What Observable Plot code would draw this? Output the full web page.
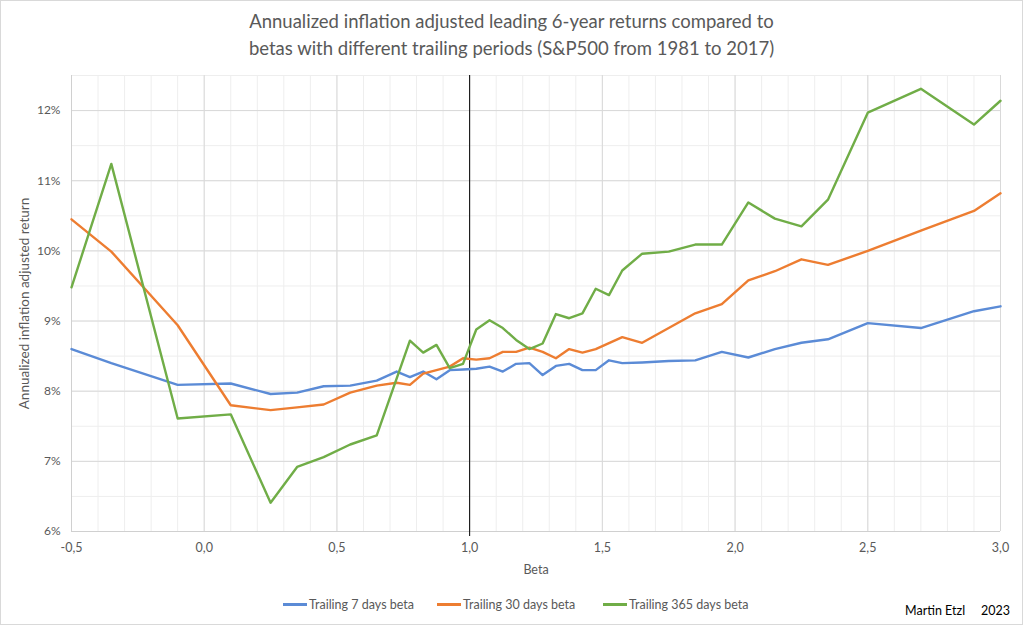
<!DOCTYPE html>
<html>
<head>
<meta charset="utf-8">
<script src="https://cdn.jsdelivr.net/npm/d3@7"></script>
<script src="https://cdn.jsdelivr.net/npm/@observablehq/plot@0.6"></script>
<style>
  html, body { margin: 0; padding: 0; background: #fff; }
  body { width: 1023px; height: 625px; position: relative; overflow: hidden; font-family: Lato, "Open Sans", sans-serif; }
  #frame { position: absolute; left: 0; top: 0; width: 1021px; height: 623px; border: 1px solid #d9d9d9; }
  #title { position: absolute; left: 0; width: 1023px; top: 8px; text-align: center; color: #595959; font-size: 18.5px; line-height: 27px; }
  #chart { position: absolute; left: 0; top: 60px; }
  .leg { position: absolute; top: 597px; font-size: 12.5px; color: #595959; display: flex; align-items: center; white-space: nowrap; }
  .leg i { display: inline-block; width: 24px; height: 3px; margin-right: 2px; }
  #credit { position: absolute; top: 603px; left: 905px; font-size: 12.5px; color: #000; white-space: pre; }
</style>
</head>
<body>
<div id="frame"></div>
<div id="title">Annualized inflation adjusted leading 6-year returns compared to<br>betas with different trailing periods (S&amp;P500 from 1981 to 2017)</div>
<div id="chart"></div>
<div id="legend"></div>
<div id="credit">Martin Etzl     2023</div>
<script>
// ---- data (beta on x, annualized return in % on y) ----
const seriesNames = ["Trailing 7 days beta", "Trailing 30 days beta", "Trailing 365 days beta"];
const seriesColors = ["#5b8bd6", "#ed7d31", "#70ad47"];

const beta7 = [-0.5, -0.35, -0.1, 0.1, 0.25, 0.35, 0.45, 0.55, 0.65, 0.725, 0.775, 0.825, 0.875, 0.925, 0.975, 1.025, 1.075, 1.125, 1.175, 1.225, 1.275, 1.325, 1.375, 1.425, 1.475, 1.525, 1.575, 1.65, 1.75, 1.85, 1.95, 2.05, 2.15, 2.25, 2.35, 2.5, 2.7, 2.9, 3.0];
const ret7 = [8.60, 8.40, 8.09, 8.11, 7.96, 7.98, 8.07, 8.08, 8.15, 8.28, 8.20, 8.28, 8.17, 8.30, 8.31, 8.32, 8.35, 8.28, 8.39, 8.40, 8.23, 8.36, 8.39, 8.30, 8.30, 8.44, 8.40, 8.41, 8.43, 8.44, 8.56, 8.48, 8.60, 8.69, 8.74, 8.97, 8.90, 9.14, 9.21];

const beta30 = [-0.5, -0.35, -0.1, 0.1, 0.25, 0.35, 0.45, 0.55, 0.65, 0.725, 0.775, 0.825, 0.875, 0.925, 0.975, 1.025, 1.075, 1.125, 1.175, 1.225, 1.275, 1.325, 1.375, 1.425, 1.475, 1.575, 1.65, 1.85, 1.95, 2.05, 2.15, 2.25, 2.35, 2.5, 2.7, 2.9, 3.0];
const ret30 = [10.45, 9.99, 8.94, 7.80, 7.73, 7.77, 7.81, 7.98, 8.08, 8.12, 8.09, 8.25, 8.30, 8.35, 8.47, 8.45, 8.47, 8.56, 8.56, 8.62, 8.56, 8.47, 8.60, 8.55, 8.60, 8.77, 8.69, 9.11, 9.24, 9.58, 9.71, 9.88, 9.80, 10.00, 10.29, 10.57, 10.82];

const beta365 = [-0.5, -0.35, -0.1, 0.1, 0.25, 0.35, 0.45, 0.55, 0.65, 0.775, 0.825, 0.875, 0.925, 0.975, 1.025, 1.075, 1.125, 1.175, 1.225, 1.275, 1.325, 1.375, 1.425, 1.475, 1.525, 1.575, 1.65, 1.75, 1.85, 1.95, 2.05, 2.15, 2.25, 2.35, 2.5, 2.7, 2.9, 3.0];
const ret365 = [9.48, 11.24, 7.61, 7.67, 6.41, 6.92, 7.06, 7.24, 7.37, 8.72, 8.55, 8.66, 8.33, 8.39, 8.88, 9.01, 8.90, 8.73, 8.60, 8.68, 9.10, 9.04, 9.11, 9.46, 9.37, 9.72, 9.96, 9.99, 10.09, 10.09, 10.69, 10.46, 10.35, 10.73, 11.97, 12.31, 11.80, 12.14];

const xTicks = [-0.5, 0, 0.5, 1, 1.5, 2, 2.5, 3];
const yTicks = [6, 7, 8, 9, 10, 11, 12];

// ---- build table ----
const rows = [];
[[beta7, ret7], [beta30, ret30], [beta365, ret365]].forEach(([bs, rs], i) => {
  bs.forEach((b, j) => rows.push({series: seriesNames[i], beta: b, ret: rs[j]}));
});

const minorX = d3.range(-5, 31).map(d => d / 10);
const minorY = d3.range(12, 26).map(d => d / 2);
const fmtX = d => d.toFixed(1).replace(".", ",");
const fmtY = d => d + "%";

const chart = Plot.plot({
  width: 1023,
  height: 525,
  marginTop: 15,
  marginBottom: 54,
  marginLeft: 71,
  marginRight: 23,
  style: { fontFamily: "Lato, 'Open Sans', sans-serif", fontSize: "12px", color: "#595959", background: "transparent" },
  x: { domain: [-0.5, 3], ticks: xTicks, tickFormat: fmtX },
  y: { domain: [6, 12.5], ticks: yTicks, tickFormat: fmtY },
  color: { domain: seriesNames, range: seriesColors },
  marks: [
    Plot.gridX(minorX, { stroke: "#eeeeee", strokeOpacity: 1 }),
    Plot.gridY(minorY, { stroke: "#eeeeee", strokeOpacity: 1 }),
    Plot.gridX(xTicks, { stroke: "#d9d9d9", strokeOpacity: 1 }),
    Plot.gridY(yTicks, { stroke: "#d9d9d9", strokeOpacity: 1 }),
    Plot.ruleY([6], { stroke: "#d0d0d0" }),
    Plot.ruleX([-0.5], { stroke: "#d0d0d0" }),
    Plot.ruleX([1], { stroke: "#000", strokeWidth: 1, insetBottom: -5 }),
    Plot.axisX({ ticks: xTicks, tickSize: 0, tickPadding: 12, tickFormat: fmtX,
                 label: "Beta", labelAnchor: "center", labelArrow: "none", labelOffset: 42, fontSize: 12.5 }),
    Plot.axisY({ ticks: yTicks, tickSize: 0, tickPadding: 11, tickFormat: fmtY, label: null, fontSize: 12 }),
    Plot.axisY({ ticks: [], label: "Annualized inflation adjusted return", labelAnchor: "center", labelArrow: "none", labelOffset: 52, fontSize: 13.5 }),
    Plot.line(rows, { x: "beta", y: "ret", z: "series", stroke: "series", strokeWidth: 2.4, strokeLinejoin: "round", strokeLinecap: "round", curve: "linear" })
  ]
});
document.getElementById("chart").appendChild(chart);

// ---- legend ----
const legendX = [283, 437, 603];
const leg = document.getElementById("legend");
seriesNames.forEach((name, i) => {
  const d = document.createElement("div");
  d.className = "leg";
  d.style.left = legendX[i] + "px";
  const sw = document.createElement("i");
  sw.style.background = seriesColors[i];
  d.appendChild(sw);
  d.appendChild(document.createTextNode(name));
  leg.appendChild(d);
});
</script>
</body>
</html>
